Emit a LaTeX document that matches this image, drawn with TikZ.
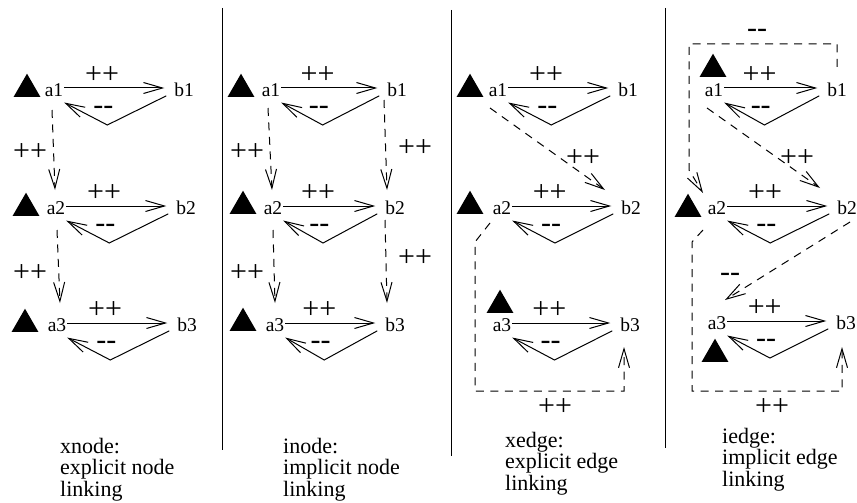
\documentclass[tikz,border=0pt]{standalone}
\usepackage{fontspec}
\setmainfont{Liberation Serif}
\usetikzlibrary{arrows.meta,shapes.geometric,calc}

\tikzset{
  vertex/.style={font=\fontsize{19.5}{21}\selectfont, inner sep=1pt, outer sep=0pt},
  tri/.style={regular polygon, regular polygon sides=3, fill=black, draw=none,
    minimum size=31pt, inner sep=0pt, outer sep=0pt},
  link/.style={line width=1pt, -{Straight Barb[length=19pt,width=11pt,line width=1pt]}},
  dlink/.style={link, dash pattern=on 8pt off 6.5pt},
  sign/.style={font=\fontsize{30}{31}\selectfont, inner sep=0pt},
  caption/.style={font=\fontsize{22}{21.5}\selectfont, align=left, anchor=north west, inner sep=0pt},
  divider/.style={line width=1pt}
}

% one a->b pair: forward arrow, return arrow through a lower vertex, and their signs
\newcommand{\linkrow}[2]{%
  \draw[link, shorten >=9pt] ([yshift=2pt]#1.east) -- ([yshift=2pt]#2.west);
  \coordinate (#1v) at ($(#1)!0.41!(#2)+(0,35)$);
  \draw[link] ([xshift=-7pt,yshift=2pt]#2.south west) -- (#1v) -- ([yshift=-5pt]#1.south east);
  \node[sign] (#1up) at ($(#1)!0.37!(#2)+(0,-15)$) {++};
  \node[sign] (#1dn) at ($(#1)!0.38!(#2)+(0,20)$) {-{}-};
}

\begin{document}
\begin{tikzpicture}[x=1pt,y=-1pt]
\useasboundingbox (0,0) rectangle (857,503);

% column dividers
\draw[divider] (222,8) -- (222,450);
\draw[divider] (451,10) -- (451,456);
\draw[divider] (665,8) -- (665,448);

% ---------- xnode ----------
\node[vertex] (p1a1) at (54,90) {a1};
\node[vertex] (p1b1) at (184,90) {b1};
\node[vertex] (p1a2) at (56,208) {a2};
\node[vertex] (p1b2) at (186,208) {b2};
\node[vertex] (p1a3) at (57,325) {a3};
\node[vertex] (p1b3) at (187,325) {b3};
\node[tri] (p1t1) at (27,89.2) {};
\node[tri] (p1t2) at (26,208.2) {};
\node[tri] (p1t3) at (25,324.2) {};
\linkrow{p1a1}{p1b1}
\linkrow{p1a2}{p1b2}
\linkrow{p1a3}{p1b3}
\draw[dlink] ($(p1a1)+(-2,20)$) -- ($(p1a2)+(-1,-18)$);
\node[sign] (p1s1) at (30,152) {++};
\draw[dlink] ($(p1a2)+(1,22)$) -- ($(p1a3)+(3,-22)$);
\node[sign] (p1s2) at (30,273) {++};
\node[caption] (p1cap) at (60,438) {xnode:\\explicit node\\linking};

% ---------- inode ----------
\node[vertex] (p2a1) at (271,90) {a1};
\node[vertex] (p2b1) at (397,90) {b1};
\node[vertex] (p2a2) at (273,208) {a2};
\node[vertex] (p2b2) at (395,208) {b2};
\node[vertex] (p2a3) at (275,325) {a3};
\node[vertex] (p2b3) at (395,325) {b3};
\node[tri] (p2t1) at (241,89.2) {};
\node[tri] (p2t2) at (243,206.2) {};
\node[tri] (p2t3) at (243,323.2) {};
\linkrow{p2a1}{p2b1}
\linkrow{p2a2}{p2b2}
\linkrow{p2a3}{p2b3}
\draw[dlink] ($(p2a1)+(-3,18)$) -- ($(p2a2)+(-1,-18)$);
\node[sign] (p2s1) at (247,152) {++};
\draw[dlink] ($(p2a2)+(0,22)$) -- ($(p2a3)+(0,-22)$);
\node[sign] (p2s2) at (247,273) {++};
\draw[dlink] ($(p2b1)+(-13,10)$) -- ($(p2b2)+(-8,-18)$);
\node[sign] (p2s3) at (415,148) {++};
\draw[dlink] ($(p2b2)+(-10,12)$) -- ($(p2b3)+(-8,-22)$);
\node[sign] (p2s4) at (415,258) {++};
\node[caption] (p2cap) at (283,438) {inode:\\implicit node\\linking};

% ---------- xedge ----------
\node[vertex] (p3a1) at (498,90) {a1};
\node[vertex] (p3b1) at (628,90) {b1};
\node[vertex] (p3a2) at (502,208) {a2};
\node[vertex] (p3b2) at (631,208) {b2};
\node[vertex] (p3a3) at (502,325) {a3};
\node[vertex] (p3b3) at (630,325) {b3};
\node[tri] (p3t1) at (470,89.2) {};
\node[tri] (p3t2) at (470,206.2) {};
\node[tri] (p3t3) at (500,305.2) {};
\linkrow{p3a1}{p3b1}
\linkrow{p3a2}{p3b2}
\linkrow{p3a3}{p3b3}
\draw[dlink] ($(p3a1)+(-8,18)$) -- ($(p3b2)+(-26,-18)$);
\node[sign] (p3s1) at (583,158) {++};
\draw[dlink] ($(p3a2)+(-12,15)$) -- ++(-15,19) -- ++(0,149) -| ($(p3b3)+(-6,22)$);
\node[sign] (p3s2) at (555,407) {++};
\node[caption] (p3cap) at (505,432) {xedge:\\explicit edge\\linking};

% ---------- iedge ----------
\node[vertex] (p4a1) at (714,90) {a1};
\node[vertex] (p4b1) at (837,90) {b1};
\node[vertex] (p4a2) at (717,208) {a2};
\node[vertex] (p4b2) at (847,208) {b2};
\node[vertex] (p4a3) at (717,323) {a3};
\node[vertex] (p4b3) at (846,323) {b3};
\node[tri] (p4t1) at (713,69.2) {};
\node[tri] (p4t2) at (688,209.2) {};
\node[tri] (p4t3) at (715,354.2) {};
\linkrow{p4a1}{p4b1}
\linkrow{p4a2}{p4b2}
\linkrow{p4a3}{p4b3}
\draw[dlink] ($(p4b1)+(0,-23)$) -- ++(0,-23) -| ++(-148,126) -- ($(p4a2)+(-14,-15)$);
\node[sign] (p4s1) at (757,33) {-{}-};
\draw[dlink] ($(p4a1)+(-7,18)$) -- ($(p4b2)+(-27,-20)$);
\node[sign] (p4s2) at (797,158) {++};
\draw[dlink] ($(p4b2)+(3,14)$) -- ($(p4a3)+(8,-23)$);
\node[sign] (p4s3) at (730,277) {-{}-};
\draw[dlink] ($(p4a2)+(-14,22)$) -- ++(-11,12) -- ++(0,149) -| ($(p4b3)+(-4,24)$);
\node[sign] (p4s4) at (772,407) {++};
\node[caption] (p4cap) at (722,428) {iedge:\\implicit edge\\linking};
\end{tikzpicture}
\end{document}
